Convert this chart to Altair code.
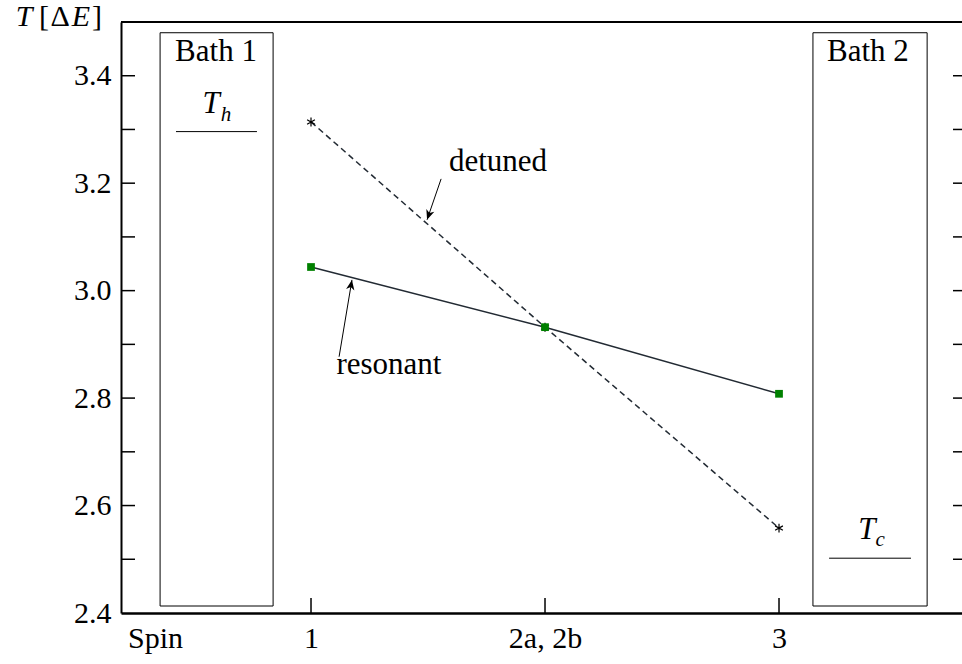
import altair as alt
import pandas as pd

# ---------------- data ----------------
spins = [1, 2, 3]
detuned = [3.314, 2.932, 2.558]
resonant = [3.044, 2.932, 2.808]

x_tick_values = [0.3333, 1, 2, 3]
x_tick_labels = ["Spin", "1", "2a, 2b", "3"]
x_major_ticks = [1, 2, 3]
y_label_values = [2.4, 2.6, 2.8, 3.0, 3.2, 3.4]
y_tick_values = [2.5, 2.6, 2.7, 2.8, 2.9, 3.0, 3.1, 3.2, 3.3, 3.4]

# y-axis title pieces: italic symbols and upright brackets
title_italic = ["T", "E"]
title_italic_x = [-0.2265, 0.0171]
title_roman = ["[", "Δ", "]"]
title_roman_x = [-0.141, -0.0726, 0.0855]
title_y = 3.5093

bath_names = ["Bath 1", "Bath 2"]
bath_x0 = [0.355, 3.145]
bath_x1 = [0.838, 3.633]
bath_y0 = [2.413, 2.413]
bath_y1 = [3.480, 3.480]
bath_label_x = [0.594, 3.380]
bath_label_y = [3.444, 3.444]

bath_temp = [3.296, 2.502]
bath_temp_x0 = [0.423, 3.214]
bath_temp_x1 = [0.769, 3.564]
temp_T_x = [0.573, 3.376]
temp_T_y = [3.347, 2.555]
temp_sub = ["h", "c"]
temp_sub_x = [0.637, 3.432]
temp_sub_y = [3.327, 2.536]

note_text = ["detuned", "resonant"]
note_x = [1.799, 1.333]
note_y = [3.239, 2.862]
arrow_x0 = [1.556, 1.120]
arrow_y0 = [3.208, 2.877]
arrow_x1 = [1.496, 1.175]
arrow_y1 = [3.132, 3.020]
arrow_angle = [199, 10]

# ---------------- styling ----------------
FONT = "Liberation Serif"
FS = 30
FS_TXT = 31
LINE = "#222a33"
GREEN = "#008000"
W, H = 841, 591

xs = alt.Scale(domain=[0.188, 3.782], nice=False, zero=False)
ys = alt.Scale(domain=[2.4, 3.5], nice=False, zero=False)

label_expr = " : ".join(
    f"abs(datum.value - {v}) < 0.01 ? '{t}'" for v, t in zip(x_tick_values, x_tick_labels)
) + " : ''"

xaxis = alt.Axis(values=x_tick_values, labelExpr=label_expr, ticks=False, grid=False,
                 domainColor="black", domainWidth=2.5, labelFont=FONT, labelFontSize=FS,
                 labelColor="black", labelPadding=10, labelFlush=False, title=None)
yaxis = alt.Axis(values=y_label_values, format=".1f", ticks=False, grid=False,
                 domainColor="black", domainWidth=2, labelFont=FONT, labelFontSize=FS,
                 labelColor="black", labelPadding=10, title=None)


def X(f):
    return alt.X(f, type="quantitative", scale=xs, axis=xaxis)


def Y(f):
    return alt.Y(f, type="quantitative", scale=ys, axis=yaxis)


def txt(**kw):
    base = dict(font=FONT, fontSize=FS_TXT, color="black", align="center", baseline="middle")
    base.update(kw)
    return base


df = pd.DataFrame({"spin": spins, "detuned": detuned, "resonant": resonant})

res_line = alt.Chart(df).mark_line(color=LINE, strokeWidth=1.5).encode(
    x=X("spin"), y=Y("resonant"))
det_line = alt.Chart(df).mark_line(color=LINE, strokeWidth=1.5, strokeDash=[6, 4]).encode(
    x=X("spin"), y=Y("detuned"))
asterisk = "M0,-1L0,1M-0.87,-0.5L0.87,0.5M-0.87,0.5L0.87,-0.5"
det_pts = alt.Chart(df).mark_point(shape=asterisk, filled=False, stroke="black",
                                    strokeWidth=1.2, size=80, opacity=1).encode(
    x=X("spin"), y=Y("detuned"))
res_pts = alt.Chart(df).mark_point(shape="square", filled=True, color=GREEN,
                                    size=60, opacity=1).encode(
    x=X("spin"), y=Y("resonant"))

bath_df = pd.DataFrame({"name": bath_names, "x0": bath_x0, "x1": bath_x1,
                        "y0": bath_y0, "y1": bath_y1, "lx": bath_label_x, "ly": bath_label_y,
                        "t": bath_temp, "tx0": bath_temp_x0, "tx1": bath_temp_x1,
                        "Tx": temp_T_x, "Ty": temp_T_y, "sub": temp_sub,
                        "sx": temp_sub_x, "sy": temp_sub_y})
boxes = alt.Chart(bath_df).mark_rect(fill=None, stroke="black", strokeWidth=1).encode(
    x=X("x0"), x2="x1:Q", y=Y("y0"), y2="y1:Q")
bath_labels = alt.Chart(bath_df).mark_text(**txt()).encode(
    x=X("lx"), y=Y("ly"), text="name:N")
temp_lines = alt.Chart(bath_df).mark_rule(color="black", strokeWidth=1).encode(
    x=X("tx0"), x2="tx1:Q", y=Y("t"))
temp_T = alt.Chart(bath_df).mark_text(**txt(fontStyle="italic", text="T")).encode(
    x=X("Tx"), y=Y("Ty"))
temp_s = alt.Chart(bath_df).mark_text(**txt(fontStyle="italic", fontSize=21)).encode(
    x=X("sx"), y=Y("sy"), text="sub:N")

ti_df = pd.DataFrame({"s": title_italic, "x": title_italic_x, "y": [title_y] * len(title_italic)})
tr_df = pd.DataFrame({"s": title_roman, "x": title_roman_x, "y": [title_y] * len(title_roman)})
title_it = alt.Chart(ti_df).mark_text(**txt(fontStyle="italic", fontSize=FS)).encode(
    x=X("x"), y=Y("y"), text="s:N")
title_rm = alt.Chart(tr_df).mark_text(**txt(fontSize=FS)).encode(
    x=X("x"), y=Y("y"), text="s:N")

note_df = pd.DataFrame({"text": note_text, "x": note_x, "y": note_y,
                        "ax0": arrow_x0, "ay0": arrow_y0, "ax1": arrow_x1, "ay1": arrow_y1,
                        "ang": arrow_angle})
notes = alt.Chart(note_df).mark_text(**txt()).encode(
    x=X("x"), y=Y("y"), text="text:N")
arrows = alt.Chart(note_df).mark_rule(color="black", strokeWidth=1).encode(
    x=X("ax0"), x2="ax1:Q", y=Y("ay0"), y2="ay1:Q")
head = "M0,0L-0.42,1L0,0.72L0.42,1Z"
heads = alt.Chart(note_df).mark_point(shape=head, filled=True, fill="black",
                                      strokeWidth=0, size=400, opacity=1).encode(
    x=X("ax1"), y=Y("ay1"), angle=alt.Angle("ang:Q", scale=None))

tick_df = pd.DataFrame({"v": y_tick_values})
left_ticks = alt.Chart(tick_df).mark_rule(color="black", strokeWidth=1.5).encode(
    y=Y("v"), x=alt.value(0), x2=alt.value(14))
right_ticks = alt.Chart(tick_df).mark_rule(color="black", strokeWidth=1.5).encode(
    y=Y("v"), x=alt.value(W - 9), x2=alt.value(W))
xt_df = pd.DataFrame({"v": x_major_ticks})
bottom_ticks = alt.Chart(xt_df).mark_rule(color="black", strokeWidth=1.5).encode(
    x=X("v"), y=alt.value(H), y2=alt.value(H - 15))
top_line = alt.Chart(pd.DataFrame({"a": [0]})).mark_rule(color="black", strokeWidth=2).encode(
    x=alt.value(0), x2=alt.value(W), y=alt.value(0))

chart = alt.layer(
    res_line, det_line, boxes, temp_lines, bath_labels, temp_T, temp_s,
    title_it, title_rm, notes, arrows, heads, det_pts, res_pts,
    left_ticks, right_ticks, bottom_ticks, top_line,
).properties(
    width=W, height=H,
    padding={"left": 121, "top": 22, "right": 0, "bottom": 51},
    autosize=alt.AutoSizeParams(type="none"),
    background="white",
).configure_view(stroke=None)

chart.save("out.html", embed_options={"renderer": "svg", "actions": False})
